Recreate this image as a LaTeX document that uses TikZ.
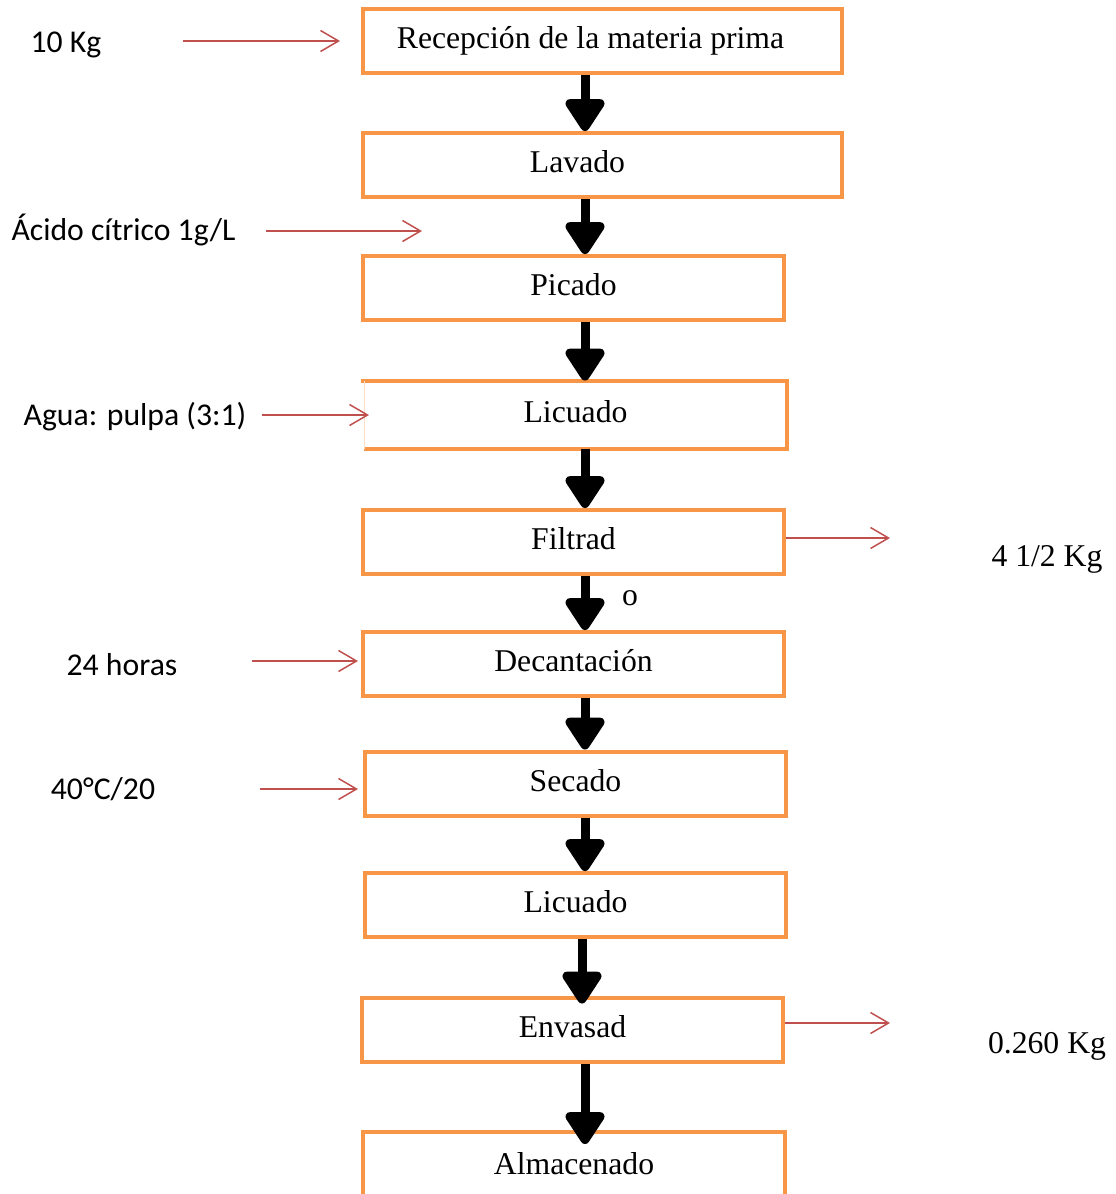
\documentclass[tikz,border=0pt]{standalone}
\usepackage{fontspec}
\setmainfont{Liberation Serif}
\setsansfont{Carlito}
\usetikzlibrary{arrows.meta}
\definecolor{naranja}{HTML}{F79646}
\definecolor{rojo}{HTML}{C0504D}

\begin{document}
\begin{tikzpicture}[x=1pt,y=-1pt,
  paso/.style={draw=naranja,line width=4pt,minimum height=64pt,inner sep=0pt,
    text height=22pt,text depth=7pt,font=\fontsize{31.7}{38}\selectfont},
  flecha/.style={-{Triangle[width=44pt,length=36pt,round]},line width=9pt,black},
  entrada/.style={-{Straight Barb[length=18pt,width=21pt]},line width=1.5pt,rojo},
  dato/.style={anchor=base,font=\sffamily\fontsize{31.7}{38}\selectfont},
  salida/.style={anchor=base,font=\fontsize{31.7}{38}\selectfont}]
\useasboundingbox (0,0) rectangle (1116,1194);

% etapas del proceso
\node[paso,minimum width=479pt] (recep) at (602.5,41) {Recepción de la materia prima\hspace*{24pt}};
\node[paso,minimum width=479pt] (lavado) at (602.5,165) {Lavado\hspace*{50pt}};
\node[paso,minimum width=421pt] (picado) at (573.5,288) {Picado};
\node[paso,minimum width=419pt,draw=none] (licuado1) at (575.5,414.5) {Licuado};
\node[paso,minimum width=421pt] (filtrado) at (573.5,542) {Filtrad};
\node[paso,minimum width=421pt] (decant) at (573.5,664) {Decantación};
\node[paso,minimum width=421pt] (secado) at (575.5,783.5) {Secado};
\node[paso,minimum width=421pt] (licuado2) at (575.5,905) {Licuado};
\node[paso,minimum width=421pt] (envasado) at (572.5,1029.5) {Envasad};
\node[paso,minimum width=422pt,minimum height=70pt] (almacen) at (574,1167) {Almacenado};

\draw[naranja,line width=4pt] ([xshift=-3pt]licuado1.north west) -- (licuado1.north east)
  -- (licuado1.south east) -- (licuado1.south west);
\draw[naranja!30,line width=1pt] (licuado1.north west) -- (licuado1.south west);

% flujo principal
\draw[flecha] (recep.south -| 585,0) -- (lavado.north -| 585,0);
\draw[flecha] (lavado.south -| 585,0) -- (picado.north -| 585,0);
\draw[flecha] (picado.south -| 585,0) -- (licuado1.north -| 585,0);
\draw[flecha] (licuado1.south -| 585,0) -- (filtrado.north -| 585,0);
\draw[flecha] (filtrado.south -| 585,0) -- (decant.north -| 585,0);
\draw[flecha] (decant.south -| 585,0) -- (secado.north -| 585,0);
\draw[flecha] (secado.south -| 585,0) -- (licuado2.north -| 585,0);
\draw[flecha] (licuado2.south -| 582,0) -- ([yshift=-8pt]envasado.north -| 582,0);
\draw[flecha] (envasado.south -| 585,0) -- ([yshift=-14pt]almacen.north -| 585,0);

% entradas y salidas
\node[dato] (kg10) at (66,52) {10 Kg};
\node[dato] (acido) at (123.5,240) {Ácido cítrico 1g/L};
\node[dato] (agua) at (135,425.5) {Agua: pulpa (3:1)};
\node[dato] (horas) at (122,675) {24 horas};
\node[dato] (temp) at (103,799) {40°C/20};
\node[salida] (resto) at (1047,566) {4 1/2 Kg};
\node[salida] (polvo) at (1047,1053) {0.260 Kg};
\node[salida] (letra) at (630,605) {o};

\coordinate (kgA) at (183,41);
\coordinate (kgB) at (340,41);
\coordinate (acidoA) at (266,231);
\coordinate (acidoB) at (422,231);
\coordinate (aguaA) at (262,415);
\coordinate (horasA) at (252,661);
\coordinate (horasB) at (358,661);
\coordinate (tempA) at (260,789);
\coordinate (tempB) at (358,789);
\coordinate (filtB) at (890,538);
\coordinate (envB) at (890,1023);

\draw[entrada] (kgA) -- (kgB);
\draw[entrada] (acidoA) -- (acidoB);
\draw[entrada] (aguaA) -- ([xshift=5pt]licuado1.west |- aguaA);
\draw[entrada] (horasA) -- (horasB);
\draw[entrada] (tempA) -- (tempB);
\draw[entrada] (filtrado.east |- filtB) -- (filtB);
\draw[entrada] (envasado.east |- envB) -- (envB);
\end{tikzpicture}
\end{document}
